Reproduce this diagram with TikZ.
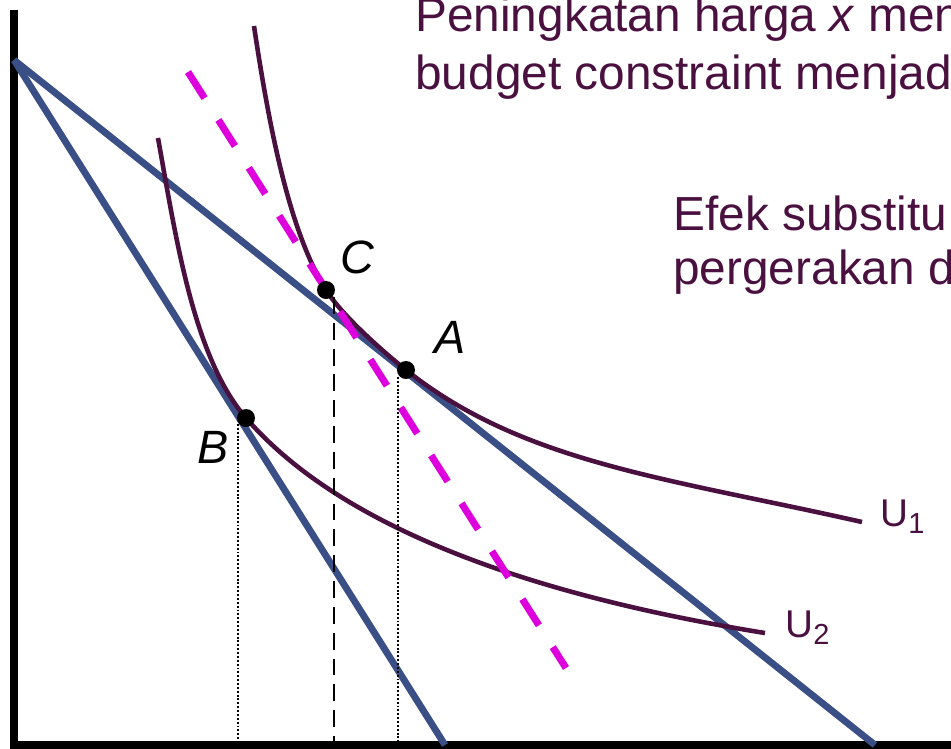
\documentclass[tikz,border=0pt]{standalone}
\usepackage{fontspec}
\setmainfont{Liberation Sans}
\usetikzlibrary{positioning}

\definecolor{ungu}{RGB}{74,16,64}
\definecolor{biru}{RGB}{58,79,134}
\definecolor{merahmuda}{RGB}{221,0,221}

\begin{document}
\begin{tikzpicture}[x=0.02cm, y=-0.02cm,
    kurva/.style={ungu, line width=2.6pt},
    anggaran/.style={biru, line width=3.9pt},
    titik/.style={circle, fill=black, inner sep=0pt, minimum size=0.36cm},
    huruf/.style={inner sep=0pt, font=\fontsize{26.6}{32}\selectfont\itshape},
    teks/.style={ungu, anchor=base west, inner sep=0pt, font=\fontsize{27.2}{32}\selectfont},
    labelU/.style={ungu, anchor=base west, inner sep=0pt, font=\fontsize{22}{26}\selectfont},
  ]
    \useasboundingbox (0,0) rectangle (951,748);
    \clip (0,0) rectangle (951,748);

    % sumbu
    \draw[line width=4.2pt, line join=miter] (14,10) -- (14,745) -- (951,745);

    % garis anggaran
    \coordinate (M) at (14,60);
    \draw[anggaran] (M) -- (875,745);
    \draw[anggaran] (M) -- (445,745);

    \coordinate (C) at (326,290);
    \coordinate (A) at (406,370);
    \coordinate (B) at (246,418);

    % kurva indiferen
    \draw[kurva] (254,26) .. controls (269,126) and (289,231) .. (C)
      .. controls (342,315.5) and (382.6,351.4) .. (A)
      .. controls (523,463) and (667,478) .. (862,522);
    \draw[kurva] (158,138) .. controls (176,238) and (193.5,357.6) .. (B)
      .. controls (311.6,493.5) and (449,582) .. (765,633);

    % garis anggaran kompensasi
    \draw[merahmuda, line width=4pt, dash pattern=on 17.6pt off 14.7pt] (188,72) -- (566,668);

    % garis bantu
    \draw[line width=1.4pt, dash pattern=on 9.6pt off 5.1pt] (334,297) -- (334,742);
    \draw[line width=1.3pt, dash pattern=on 1.1pt off 1.1pt] (398,377) -- (398,742);
    \draw[line width=1.3pt, dash pattern=on 1.1pt off 1.1pt] (238,424) -- (238,742);

    \node[titik] (titikC) at (C) {};
    \node[titik] (titikA) at (A) {};
    \node[titik] (titikB) at (B) {};

    \node[huruf] (labelC) at (357,257) {C};
    \node[huruf] (labelA) at (450,337) {A};
    \node[huruf] (labelB) at (213,447) {B};

    \node[labelU] (labelU1) at (880,526) {U\raisebox{-4pt}{\fontsize{16.5}{18}\selectfont 1}};
    \node[labelU] (labelU2) at (785,637) {U\raisebox{-4pt}{\fontsize{16.5}{18}\selectfont 2}};

    \node[teks] (judul1) at (415,31) {Peningkatan harga \textit{x} men};
    \node[teks] (judul2) at (415,89) {budget constraint menjad};
    \node[teks] (efek1) at (673,230) {Efek substitu};
    \node[teks] (efek2) at (673,284) {pergerakan d};
\end{tikzpicture}
\end{document}
